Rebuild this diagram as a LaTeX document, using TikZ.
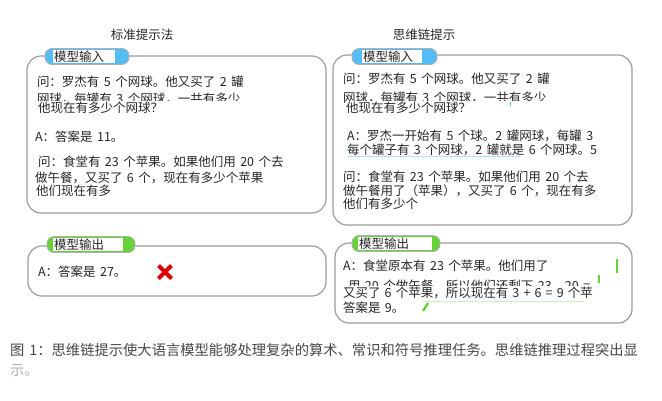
\documentclass[tikz,border=0pt]{standalone}
\usepackage{fontspec}
\setmainfont[WordSpace=1.6]{Noto Sans CJK SC}
\usepackage{tikz}
\usetikzlibrary{shapes,shapes.misc}
\usetikzlibrary{positioning}
\definecolor{tabblue}{HTML}{55BDF3}
\definecolor{tabgreen}{HTML}{66D23A}
\definecolor{rimgray}{HTML}{9C9C9C}
\definecolor{inktext}{HTML}{262626}
\tikzstyle{shot}=[x=1pt, y=-1pt, every node/.style={inner sep=0pt, outer sep=0pt,
                text=inktext, font=\fontsize{12.5}{14}\selectfont}]
\tikzstyle{panel}=[draw=rimgray, line width=1.2pt, rounded corners=14pt, fill=white]
\tikzstyle{tabin}=[draw=rimgray!80, line width=0.8pt, rounded corners=7pt, fill=tabblue,
                minimum height=16pt]
\tikzstyle{tabout}=[tabin, fill=tabgreen]
\tikzstyle{tablabel}=[fill=white, anchor=west, align=left, inner xsep=1pt,
                minimum height=13pt]
\tikzstyle{ln}=[anchor=west]
\tikzstyle{cover}=[anchor=west, fill=white, inner ysep=1.5pt, text width=270pt, align=left]
\tikzstyle{greenmark}=[tabgreen, line width=1.8pt]

\begin{document}
\begin{tikzpicture}[shot]
    \path[use as bounding box] (0,0) rectangle (662,400);
    % headings
    \node (headA) at (142,35) {标准提示法};
    \node (headB) at (424,35) {思维链提示};
    % panels
    \node[panel, minimum width=299pt, minimum height=157pt] (inA) at (176.5,134.5) {};
    \node[panel, minimum width=299pt, minimum height=170pt] (inB) at (482.5,140) {};
    \node[panel, minimum width=298pt, minimum height=50pt] (outA) at (177,271) {};
    \node[panel, minimum width=297pt, minimum height=80pt] (outB) at (483.5,283) {};
    % tabs
    \node[tabin, minimum width=84pt] (tabinA) at (87,56.5) {};
    \node[tablabel, text width=60pt] (capinA) at (53,56.5) {模型输入};
    \node[tabin, minimum width=85pt] (tabinB) at (394.5,56.5) {};
    \node[tablabel, text width=58pt] (capinB) at (362,56.5) {模型输入};
    \node[tabout, minimum width=88pt] (taboutA) at (91,244.5) {};
    \node[tablabel, text width=68pt] (capoutA) at (53,244.5) {模型输出};
    \node[tabout, minimum width=88pt] (taboutB) at (396,243.5) {};
    \node[tablabel, text width=72pt] (capoutB) at (358,243.5) {模型输出};
    % standard prompt
    \node[ln] (qa1) at (37,82) {问：罗杰有 5 个网球。他又买了 2 罐};
    \node[ln] (qa2) at (37,98.5) {网球，每罐有 3 个网球，一共有多少};
    \node[cover] (qa3) at (38,108) {他现在有多少个网球？};
    \node[ln] (aa1) at (35,137) {A：答案是 11。};
    \node[ln] (qb1) at (38,162) {问：食堂有 23 个苹果。如果他们用 20 个去};
    \node[ln] (qb2) at (35,178) {做午餐，又买了 6 个，现在有多少个苹果};
    \node[ln] (qb3) at (36,191) {他们现在有多};
    \node[ln] (ra1) at (38,272) {A：答案是 27。};
    \node[cross out, draw=red!85!black, line width=4pt, minimum size=13pt] (wrong) at (165,272) {};
    % chain of thought
    \node[ln] (cq1) at (343,79) {问：罗杰有 5 个网球。他又买了 2 罐};
    \node[ln] (cq2) at (343,97.5) {网球，每罐有 3 个网球，一共有多少};
    \node[cover] (cq3) at (346,108) {他现在有多少个网球？};
    \coordinate (blip) at (510,102);
    \draw[tabblue, line width=0.8pt] (blip) -- ++(0,4);
    \node[ln] (ca1) at (347,136) {A：罗杰一开始有 5 个球。2 罐网球，每罐 3};
    \node[ln] (ca2) at (347,150) {每个罐子有 3 个网球，2 罐就是 6 个网球。5};
    \coordinate (ulA) at (348,156.5);
    \coordinate (ulB) at (520,156.5);
    \draw[tabblue!45, line width=0.8pt] (ulA) -- (ulB);
    \node[ln] (cb1) at (343,177) {问：食堂有 23 个苹果。如果他们用 20 个去};
    \node[ln] (cb2) at (343,191) {做午餐用了（苹果），又买了 6 个，现在有多};
    \node[ln] (cb3) at (343,204) {他们有多少个};
    \node[ln] (rb1) at (343,266) {A：食堂原本有 23 个苹果。他们用了};
    \node[ln] (rb2) at (348,286) {用 20 个做午餐，所以他们还剩下 23 - 20 =};
    \node[cover, inner ysep=1pt] (rb3) at (343,293) {又买了 6 个苹果，所以现在有 3 + 6 = 9 个苹};
    \node[ln] (rb4) at (343,308) {答案是 9。};
    \coordinate (tickA) at (617,259);
    \coordinate (tickB) at (599,275);
    \coordinate (tickC) at (423,311);
    \draw[greenmark] (tickA) -- ++(0,14);
    \draw[greenmark] (tickB) -- ++(0,8);
    \draw[greenmark, line width=2.4pt] (tickC) -- ++(5,-8);
    \draw[tabgreen!30, line width=0.5pt] (tickC) ++(0,-10) -- ++(162,0);
    % caption
    \node[ln, text=inktext!85, font=\fontsize{14.3}{16}\selectfont] (capA) at (10,350)
      {图 1：思维链提示使大语言模型能够处理复杂的算术、常识和符号推理任务。思维链推理过程突出显};
    \node[ln, text=black!30, font=\fontsize{14.3}{16}\selectfont] (capB) at (10,371) {示。};
\end{tikzpicture}
\end{document}
